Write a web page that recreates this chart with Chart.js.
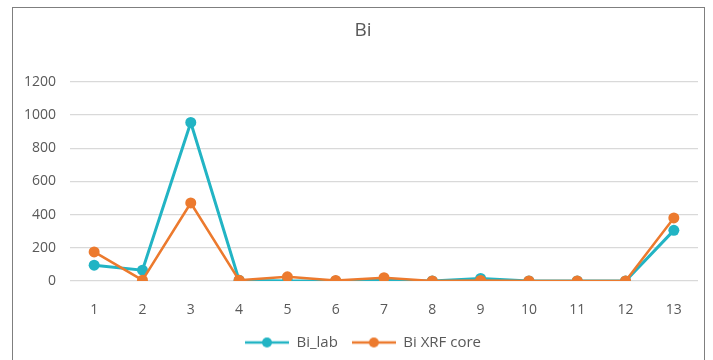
<!DOCTYPE html>
<html>
<head>
<meta charset="utf-8">
<script src="https://cdn.jsdelivr.net/npm/chart.js@4.4.0/dist/chart.umd.min.js"></script>
<style>
  html, body { margin: 0; padding: 0; background: #fff; }
  #wrap { position: relative; width: 713px; height: 360px; overflow: hidden; }
  #frame { position: absolute; left: 12px; top: 7px; width: 693px; height: 400px;
           border: 1px solid #7f7f7f; box-sizing: border-box; }
  canvas { position: absolute; left: 0; top: 0; }
</style>
</head>
<body>
<div id="wrap">
  <div id="frame"></div>
  <canvas id="chart" width="713" height="360"></canvas>
</div>
<script>
// data
const categories = ["1", "2", "3", "4", "5", "6", "7", "8", "9", "10", "11", "12", "13"];
const biLab = [95, 65, 955, 5, 0, 0, 5, 0, 15, 0, 0, 0, 305];
const biXrf = [175, 5, 470, 5, 25, 3, 20, 0, 3, 0, 0, 0, 380];
const yTicks = [0, 200, 400, 600, 800, 1000, 1200];

const tealColor = "#22b4c4";
const orangeColor = "#ec7a2e";
const textGray = "#595959";

// legend marker: short line with a dot in the middle
function legendIcon(color) {
    const c = document.createElement("canvas");
    c.width = 44;
    c.height = 12;
    const g = c.getContext("2d");
    g.strokeStyle = color;
    g.lineWidth = 2.5;
    g.beginPath();
    g.moveTo(0, 6);
    g.lineTo(44, 6);
    g.stroke();
    g.fillStyle = color;
    g.beginPath();
    g.arc(22, 6, 5, 0, Math.PI * 2);
    g.fill();
    return c;
}

const ctx = document.getElementById("chart").getContext("2d");
new Chart(ctx, {
    type: "line",
    data: {
        labels: categories,
        datasets: [
            {
                label: "Bi_lab",
                data: biLab,
                borderColor: tealColor,
                backgroundColor: tealColor,
                borderWidth: 3,
                pointRadius: 5.5,
                pointBorderWidth: 0,
                tension: 0,
                order: 2,
            },
            {
                label: "Bi XRF core",
                data: biXrf,
                borderColor: orangeColor,
                backgroundColor: orangeColor,
                borderWidth: 2.5,
                pointRadius: 5.5,
                pointBorderWidth: 0,
                tension: 0,
                order: 1,
            },
        ],
    },
    options: {
        responsive: false,
        animation: false,
        layout: { padding: { left: 13, right: 0, top: 0, bottom: 0 } },
        plugins: {
            title: {
                display: true,
                text: "Bi",
                color: textGray,
                font: { family: "Open Sans", size: 19, weight: "normal" },
                padding: { top: 19, bottom: 40 },
            },
            legend: {
                position: "bottom",
                labels: {
                    color: textGray,
                    font: { family: "Open Sans", size: 15 },
                    usePointStyle: true,
                    pointStyleWidth: 44,
                    boxHeight: 12,
                    padding: 14,
                    generateLabels: (chart) =>
                        chart.data.datasets.map((ds, i) => ({
                            text: ds.label,
                            fontColor: textGray,
                            pointStyle: legendIcon(ds.borderColor),
                            datasetIndex: i,
                            lineWidth: 0,
                        })),
                },
            },
            tooltip: { enabled: false },
        },
        scales: {
            x: {
                offset: true,
                grid: { display: false },
                border: { display: false },
                ticks: {
                    color: textGray,
                    font: { family: "Open Sans", size: 14 },
                    padding: 13,
                },
                afterFit: (scale) => { scale.height = 40; },
            },
            y: {
                min: 0,
                max: 1200,
                grid: { color: "#d9d9d9", lineWidth: 1.2, drawTicks: false },
                border: { display: false },
                afterBuildTicks: (scale) => {
                    scale.ticks = yTicks.map((v) => ({ value: v }));
                },
                ticks: {
                    color: textGray,
                    font: { family: "Open Sans", size: 14 },
                    padding: 14,
                    callback: (v) => String(v),
                },
                afterFit: (scale) => { scale.width = 57; },
            },
            // empty right-hand axis, only to keep space after the plot
            yRight: {
                position: "right",
                display: true,
                grid: { display: false },
                border: { display: false },
                ticks: { display: false },
                afterFit: (scale) => { scale.width = 15; },
            },
        },
    },
});
</script>
</body>
</html>
